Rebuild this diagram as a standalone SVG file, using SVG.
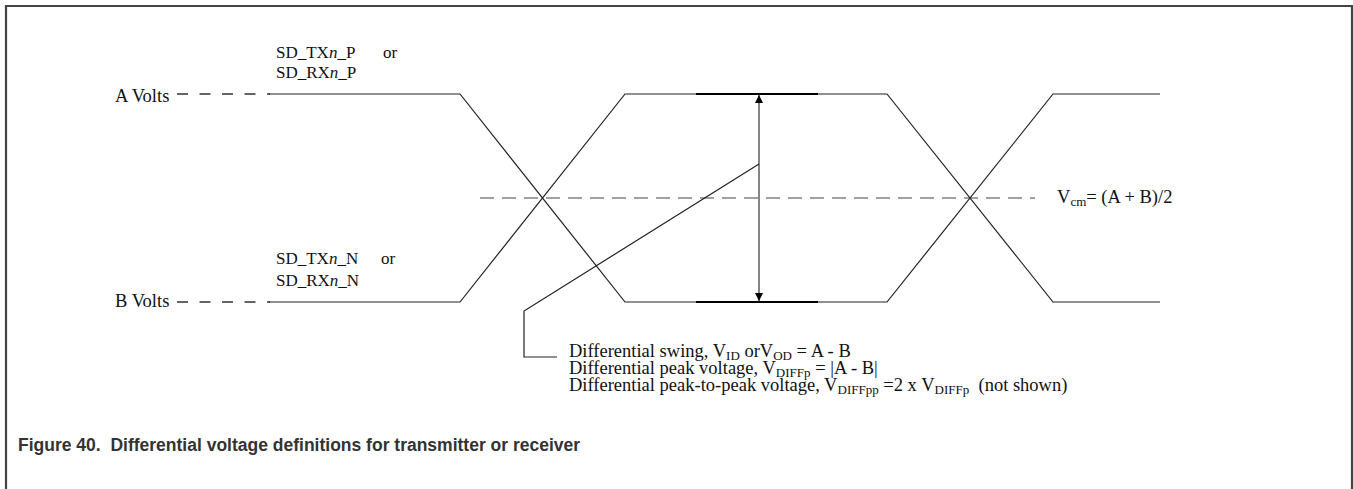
<svg xmlns="http://www.w3.org/2000/svg" width="1353" height="489" viewBox="0 0 1353 489">
<style>
.t{font-family:"Liberation Serif","Times New Roman",serif;font-size:17px;fill:#111}
.m{font-size:18.5px}
.s{font-size:13px}
.sig{fill:none;stroke:#222;stroke-width:1.2}
.dash{fill:none;stroke:#333;stroke-width:1.3;stroke-dasharray:11 11.5}
.mid{fill:none;stroke:#444;stroke-width:1.2;stroke-dasharray:14 8}
.cap{font-family:"Liberation Sans",Arial,sans-serif;font-size:17.5px;font-weight:bold;fill:#333}
</style>
<defs>
<marker id="ah" viewBox="0 0 10 10" refX="10" refY="5" markerWidth="8" markerHeight="8" markerUnits="userSpaceOnUse" orient="auto">
<path d="M0,0 L10,5 L0,10 z" fill="#000"/>
</marker>
</defs>
<rect width="1353" height="489" fill="#fff"/>
<path d="M6,489 V6 H1352 V489" fill="none" stroke="#444" stroke-width="2.2"/>
<g id="connectors">
<path class="dash" d="M177,94 H270"/>
<path class="dash" d="M177,302 H270"/>
<path class="mid" d="M480,198 H1035"/>
<path class="sig" d="M269,94 H460 L625,302 H887 L1053,94 H1160"/>
<path class="sig" d="M269,302 H460 L625,94 H887 L1053,302 H1160"/>
<path d="M696,94 H818 M696,302 H818" stroke="#000" stroke-width="2"/>
<path d="M759,104 V292" stroke="#777" stroke-width="1.8" fill="none"/>
<path d="M759,104 V95" stroke="#777" stroke-width="1.8" marker-end="url(#ah)"/>
<path d="M759,292 V301" stroke="#777" stroke-width="1.8" marker-end="url(#ah)"/>
<path class="sig" d="M759,164 L524,311 V357 H557"/>
</g>
<g id="labels">
<text class="t m" x="115" y="102">A Volts</text>
<text class="t m" x="115" y="307">B Volts</text>
<text class="t" x="276" y="58">SD_TX<tspan font-style="italic">n</tspan>_P</text>
<text class="t" x="383" y="58">or</text>
<text class="t" x="276" y="78">SD_RX<tspan font-style="italic">n</tspan>_P</text>
<text class="t" x="276" y="264">SD_TX<tspan font-style="italic">n</tspan>_N</text>
<text class="t" x="381" y="264">or</text>
<text class="t" x="276" y="286">SD_RX<tspan font-style="italic">n</tspan>_N</text>
<text class="t m" x="1057" y="203">V<tspan class="s" dy="3">cm</tspan><tspan dy="-3">= (A + B)/2</tspan></text>
<text class="t m" x="569" y="357">Differential swing, V<tspan class="s" dy="3">ID</tspan><tspan dy="-3"> orV</tspan><tspan class="s" dy="3">OD</tspan><tspan dy="-3"> = A - B</tspan></text>
<text class="t m" x="569" y="374">Differential peak voltage, V<tspan class="s" dy="3">DIFFp</tspan><tspan dy="-3"> = |A - B|</tspan></text>
<text class="t m" x="569" y="391">Differential peak-to-peak voltage, V<tspan class="s" dy="3">DIFFpp</tspan><tspan dy="-3"> =2 x V</tspan><tspan class="s" dy="3">DIFFp</tspan><tspan dy="-3">&#160; (not shown)</tspan></text>
<text class="cap" x="18" y="451">Figure 40.&#160; Differential voltage definitions for transmitter or receiver</text>
</g>
</svg>
